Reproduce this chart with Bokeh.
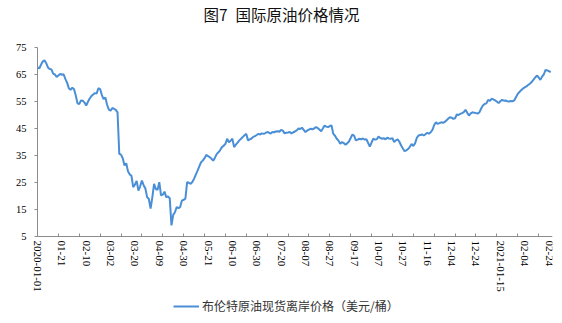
import math
from bokeh.plotting import figure
from bokeh.models import Range1d, FixedTicker, Legend, LegendItem, Label
from bokeh.embed import file_html
from bokeh.resources import INLINE

title_text = "图7\u2002国际原油价格情况"
series_name = "布伦特原油现货离岸价格（美元/桶）"

# Trading-day labels shown every 14 points on the category axis
x_labels = ["2020-01-01", "01-21", "02-10", "03-02", "03-20", "04-09", "04-30",
            "05-21", "06-10", "06-30", "07-20", "08-07", "08-27", "09-17",
            "10-07", "10-27", "11-16", "12-04", "12-24", "2021-01-15",
            "02-04", "02-24"]
label_step = 14
tick_step = 12

y_ticks = [5, 15, 25, 35, 45, 55, 65, 75]

brent = [
    67.7, 67.2, 68.6, 69.8, 70.3, 69.2, 67.6, 67.0, 66.9, 65.3,
    65.0, 64.1, 64.6, 65.2, 64.9, 65.1, 63.4, 62.0, 59.9, 59.3,
    60.1, 59.5, 57.2, 54.3, 54.0, 55.4, 55.3, 54.6, 53.5, 54.9,
    56.1, 57.0, 57.6, 58.1, 58.0, 59.9, 59.6, 57.4, 55.9, 56.5,
    53.8, 52.0, 51.6, 52.6, 52.3, 51.9, 51.0, 35.6, 35.3, 34.0,
    31.3, 32.1, 29.2, 28.0, 27.5, 23.3, 24.2, 25.6, 22.0, 23.6,
    25.7, 24.0, 22.8, 19.6, 18.9, 15.3, 19.5, 24.5, 22.6, 22.3,
    25.1, 20.2, 20.5, 21.6, 19.6, 19.8, 19.2, 9.1, 13.0, 14.0,
    15.9, 15.5, 15.9, 18.3, 18.6, 19.0, 25.1, 24.9, 24.5, 25.2,
    26.4, 27.9, 29.4, 31.0, 32.5, 33.1, 34.0, 35.2, 34.8, 34.4,
    33.8, 33.1, 34.2, 35.5, 36.2, 37.0, 38.1, 38.6, 39.3, 41.2,
    39.9, 40.5, 41.2, 38.1, 39.0, 39.8, 40.6, 41.2, 41.9, 42.5,
    43.0, 40.6, 41.0, 41.3, 41.9, 42.2, 42.6, 43.0, 42.8, 43.2,
    43.0, 43.3, 43.7, 43.5, 43.1, 43.7, 43.6, 43.9, 44.0, 43.8,
    44.5, 44.2, 43.2, 43.4, 43.5, 43.7, 43.2, 43.6, 43.9, 44.3,
    45.0, 44.8, 45.3, 44.5, 43.7, 44.2, 44.6, 44.9, 44.7, 45.0,
    45.5, 45.2, 44.6, 44.0, 45.0, 46.1, 45.7, 45.5, 45.9, 46.1,
    43.0, 42.3, 41.2, 40.5, 39.3, 40.0, 39.6, 39.0, 39.5, 40.2,
    41.5, 42.8, 42.3, 40.6, 40.9, 41.2, 41.0, 41.3, 40.9, 41.0,
    39.7, 38.3, 39.8, 41.2, 40.9, 41.0, 42.0, 41.5, 41.2, 41.4,
    41.0, 41.6, 41.3, 41.2, 41.4, 40.0, 40.6, 41.0, 40.1, 38.7,
    37.6, 36.6, 36.9, 37.4, 38.2, 39.3, 38.5, 39.5, 41.5, 42.4,
    42.6, 42.8, 42.4, 42.9, 43.4, 43.1, 43.6, 44.5, 46.3, 47.3,
    46.7, 47.0, 47.3, 47.1, 47.4, 48.0, 48.6, 49.2, 49.0, 48.6,
    48.8, 50.2, 50.0, 50.4, 50.7, 51.1, 51.9, 50.8, 49.8, 50.6,
    51.0, 50.8, 50.7, 50.5, 51.0, 52.4, 53.5, 54.1, 54.3, 55.6,
    55.2, 56.0, 55.8, 55.4, 55.0, 54.4, 55.1, 55.6, 55.3, 55.4,
    55.1, 55.0, 55.2, 55.1, 55.4, 56.6, 57.8, 58.5, 59.2, 59.8,
    60.2, 60.6, 61.1, 61.6, 62.2, 63.0, 63.8, 64.6, 64.0, 63.0,
    64.2, 65.0, 66.7, 66.5, 66.2, 65.9,
]
x_index = list(range(len(brent)))

W, H = 562, 323
# layout (pixels): plot area 37..552 horizontally, value 75 at y=47 and 5 at y=236
px_left, px_right = 37, 552
px_top, px_bottom = 47, 236
y_min, y_max = y_ticks[0], y_ticks[-1]
x_hi = 296
ppu = (px_bottom - px_top) / (y_max - y_min)
ppx = (px_right - px_left) / x_hi
y_lo = y_min - (H - px_bottom) / ppu
y_hi = y_max + px_top / ppu
x_lo = -px_left / ppx

p = figure(width=W, height=H, output_backend="svg", toolbar_location=None,
           x_range=Range1d(x_lo, x_hi), y_range=Range1d(y_lo, y_hi),
           min_border_left=0, min_border_right=W - px_right,
           min_border_top=0, min_border_bottom=0)
p.outline_line_color = None
p.xgrid.grid_line_color = None
p.ygrid.grid_line_color = None
p.background_fill_color = "white"
p.border_fill_color = "white"

axis_color = "#8C8C8C"
serif = "Liberation Serif"

# x axis: labels every 14 points, small inward tick marks every 12 points
label_pos = [i * label_step for i in range(len(x_labels))]
minor_pos = [i for i in range(tick_step, len(brent), tick_step)]
p.xaxis.fixed_location = y_min
p.xaxis.bounds = (0, x_hi)
p.xaxis.ticker = FixedTicker(ticks=label_pos, minor_ticks=minor_pos)
p.xaxis.major_label_overrides = {pos: lab for pos, lab in zip(label_pos, x_labels)}
p.xaxis.major_label_orientation = "vertical"
p.xaxis.major_tick_in = 0
p.xaxis.major_tick_out = 0
p.xaxis.minor_tick_in = 3
p.xaxis.minor_tick_out = 0
p.xaxis.minor_tick_line_color = axis_color
p.xaxis.axis_line_color = axis_color
p.xaxis.major_label_standoff = 4
p.xaxis.major_label_text_font = serif
p.xaxis.major_label_text_font_size = "11px"
p.xaxis.major_label_text_color = "#000000"

# y axis
p.yaxis.fixed_location = 0
p.yaxis.ticker = FixedTicker(ticks=y_ticks)
p.yaxis.bounds = (y_min, y_max)
p.yaxis.major_tick_in = 0
p.yaxis.major_tick_out = 3
p.yaxis.minor_tick_line_color = None
p.yaxis.major_tick_line_color = axis_color
p.yaxis.axis_line_color = axis_color
p.yaxis.major_label_standoff = 8
p.yaxis.major_label_text_font = serif
p.yaxis.major_label_text_font_size = "10.5px"
p.yaxis.major_label_text_color = "#000000"

line = p.line(x_index, brent, line_color="#4A8FD6", line_width=2)

legend = Legend(items=[LegendItem(label=series_name, renderers=[line])],
                location=(173, 9), orientation="horizontal",
                padding=0, margin=0, spacing=0,
                glyph_width=26, glyph_height=12, label_height=12,
                label_standoff=3,
                label_text_font="Noto Sans CJK SC", label_text_font_size="12px",
                label_text_color="#333333",
                border_line_color=None, background_fill_alpha=0)
p.add_layout(legend, "center")

title = Label(x=x_lo + (W / 2) / ppx,
              y=y_max + (px_top - 13.5) / ppu,
              text=title_text, text_align="center", text_baseline="middle",
              text_font="Noto Sans CJK SC", text_font_size="15.5px",
              text_color="#111111")
p.add_layout(title)

open("out.html", "w").write(file_html(p, INLINE))
